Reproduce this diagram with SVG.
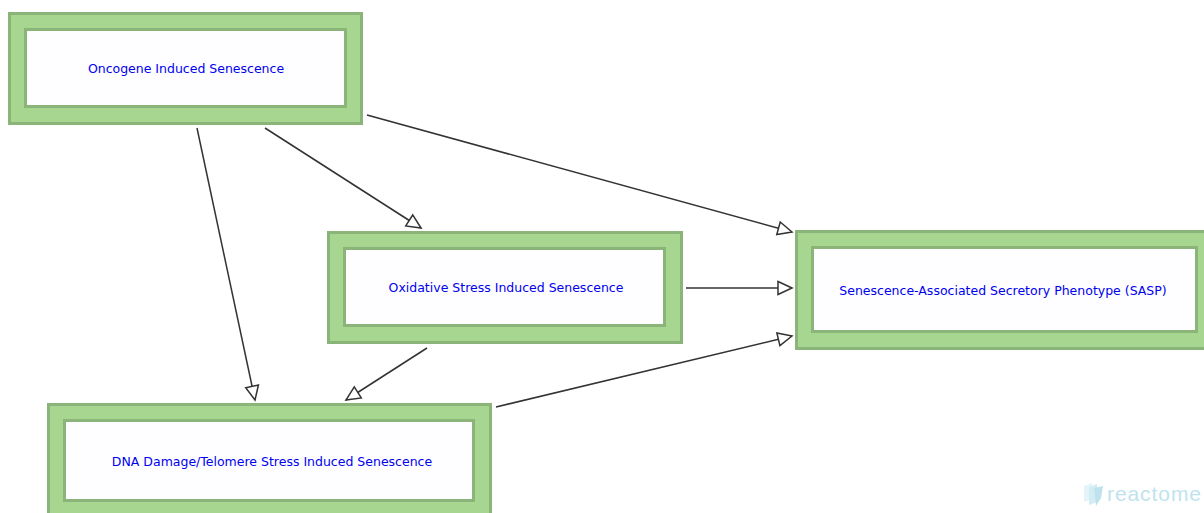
<svg xmlns="http://www.w3.org/2000/svg" width="1204" height="513" viewBox="0 0 1204 513">
<defs>
<style>
.outer{fill:#A6D690;stroke:#8AB478;stroke-width:3}
.inner{fill:#FEFDFF;stroke:#8AB478;stroke-width:3}
.lbl{font-family:"DejaVu Sans","Liberation Sans",sans-serif;font-size:12.5px;fill:#0000F0;text-anchor:middle}
.edge{stroke:#333;stroke-width:1.5;fill:none;marker-end:url(#arr)}
</style>
<marker id="arr" markerUnits="userSpaceOnUse" markerWidth="18" markerHeight="18" viewBox="-16 -9 18 18" refX="0" refY="0" orient="auto">
<path d="M0,0 L-14,-6.5 L-14,6.5 Z" fill="#fff" stroke="#333" stroke-width="1.5" stroke-linejoin="miter"/>
</marker>
</defs>
<rect width="1204" height="513" fill="#fff"/>
<g id="connectors">
<line class="edge" x1="265" y1="128" x2="421" y2="228"/>
<line class="edge" x1="197" y1="128" x2="255" y2="400"/>
<line class="edge" x1="427" y1="348" x2="346" y2="400"/>
<line class="edge" x1="686" y1="288" x2="792" y2="288"/>
<line class="edge" x1="367" y1="115" x2="792" y2="232"/>
<line class="edge" x1="496" y1="407" x2="792" y2="336"/>
</g>
<g id="oncogene">
<rect class="outer" x="9.5" y="13.5" width="352" height="110"/>
<rect class="inner" x="25.5" y="29.5" width="320" height="77"/>
<text class="lbl" x="186" y="73">Oncogene Induced Senescence</text>
</g>
<g id="oxidative">
<rect class="outer" x="328.5" y="232.5" width="353" height="110"/>
<rect class="inner" x="344.5" y="248.5" width="320" height="77"/>
<text class="lbl" x="506" y="292">Oxidative Stress Induced Senescence</text>
</g>
<g id="sasp">
<rect class="outer" x="796.5" y="231.5" width="420" height="117"/>
<rect class="inner" x="812.5" y="247.5" width="384" height="84"/>
<text class="lbl" x="1003" y="295">Senescence-Associated Secretory Phenotype (SASP)</text>
</g>
<g id="dna">
<rect class="outer" x="48.5" y="404.5" width="442" height="120"/>
<rect class="inner" x="64.5" y="420.5" width="409" height="80"/>
<text class="lbl" x="272" y="466">DNA Damage/Telomere Stress Induced Senescence</text>
</g>
<g id="logo" opacity="0.5">
<polygon points="1084,486 1092,483 1092,499 1084,502" fill="#CDEAF3"/>
<polygon points="1089,487 1097,484 1097,502 1089,505" fill="#A9DCEC"/>
<polygon points="1094,488 1103,486 1101,498 1096,506" fill="#7FC8E0"/>
<text x="1107" y="501" font-family="'Liberation Sans',sans-serif" font-size="21" fill="#7FC8E0" textLength="94" lengthAdjust="spacing">reactome</text>
</g>
</svg>
